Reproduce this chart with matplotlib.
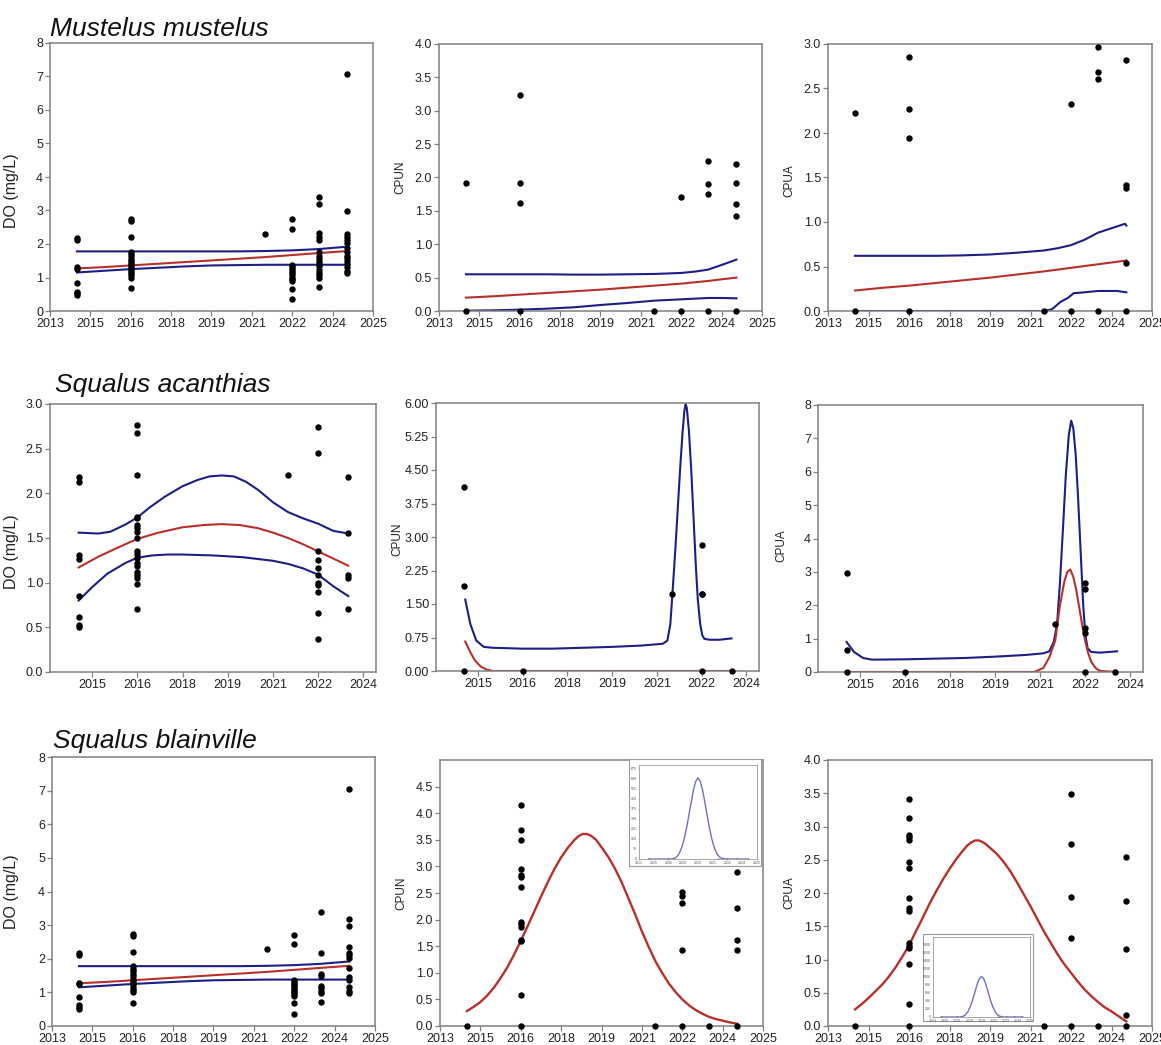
import matplotlib
matplotlib.use("Agg")
import matplotlib.pyplot as plt
from matplotlib.patches import Rectangle

plt.rcParams['font.family'] = ['Liberation Sans', 'DejaVu Sans']

W, H = 1161, 1045
BLUE = '#1c1f85'
RED = '#b8302a'
INSET = '#6f6fc0'
GREY = '#808080'
TXT = '#222222'

# ---- x axis (years, odd 1.5 yr ticks as in original) ----
xticks = [2013, 2014.5, 2016, 2017.5, 2019, 2020.5, 2022, 2023.5, 2025]
xlabels = ['2013', '2015', '2016', '2018', '2019', '2021', '2022', '2024', '2025']

years_a = [2014.0, 2016.0, 2021.0, 2022.0, 2023.0, 2024.05]
years_b = [2014.05, 2016.0, 2021.0, 2022.0, 2023.0]

# ---- Mustelus mustelus ----
mm_do = [
    [2.18, 2.13, 1.30, 1.25, 0.85, 0.58, 0.53, 0.49],
    [2.76, 2.70, 2.20, 1.76, 1.70, 1.63, 1.56, 1.49, 1.42, 1.36, 1.30, 1.25, 1.19, 1.12, 1.06, 1.00, 0.70],
    [2.30],
    [2.74, 2.45, 1.36, 1.30, 1.24, 1.18, 1.12, 1.06, 1.00, 0.95, 0.89, 0.67, 0.37],
    [3.41, 3.18, 2.34, 2.22, 2.12, 1.75, 1.65, 1.55, 1.47, 1.40, 1.33, 1.22, 1.13, 1.06, 1.00, 0.71],
    [7.06, 2.99, 2.31, 2.22, 2.12, 2.02, 1.87, 1.76, 1.65, 1.57, 1.50, 1.40, 1.30, 1.20, 1.12],
]
mm_cpun = [[1.92, 0], [3.23, 1.92, 1.62, 0], [0], [1.71, 0], [2.24, 1.91, 1.76, 0], [2.20, 1.92, 1.60, 1.42, 0]]
mm_cpua = [[2.22, 0], [2.85, 2.27, 1.94, 0], [0], [2.33, 0], [2.97, 2.69, 2.61, 0], [2.82, 1.42, 1.38, 0.54, 0]]

do_fit_x = [2014.0, 2015, 2016, 2017, 2018, 2019, 2020, 2021, 2022, 2023, 2024.05]
do_up = [1.78, 1.78, 1.78, 1.78, 1.78, 1.78, 1.78, 1.79, 1.81, 1.85, 1.92]
do_mid = [1.27, 1.31, 1.36, 1.41, 1.46, 1.51, 1.56, 1.61, 1.67, 1.73, 1.79]
do_lo = [1.15, 1.20, 1.25, 1.29, 1.33, 1.36, 1.37, 1.38, 1.38, 1.38, 1.38]

mm_cpun_fx = [2014.0, 2015, 2016, 2017, 2018, 2019, 2020, 2021, 2022, 2022.5, 2023, 2023.5, 2024.05]
mm_cpun_up = [0.55, 0.55, 0.55, 0.55, 0.545, 0.545, 0.55, 0.555, 0.57, 0.59, 0.62, 0.69, 0.77]
mm_cpun_mid = [0.20, 0.22, 0.245, 0.27, 0.295, 0.32, 0.35, 0.38, 0.41, 0.43, 0.45, 0.475, 0.50]
mm_cpun_lo = [0.005, 0.01, 0.02, 0.035, 0.055, 0.09, 0.12, 0.155, 0.175, 0.185, 0.195, 0.195, 0.19]

mm_cpua_fx = [2014.0, 2015, 2016, 2017, 2018, 2019, 2020, 2021, 2021.5, 2022, 2022.5, 2023, 2023.5, 2024.0, 2024.05]
mm_cpua_up = [0.62, 0.62, 0.62, 0.62, 0.625, 0.635, 0.655, 0.68, 0.705, 0.74, 0.80, 0.88, 0.93, 0.98, 0.96]
mm_cpua_mid = [0.23, 0.26, 0.285, 0.315, 0.345, 0.375, 0.41, 0.445, 0.465, 0.485, 0.505, 0.525, 0.545, 0.565, 0.57]
mm_cpua_lo_x = [2014.0, 2021.0, 2021.3, 2021.6, 2021.9, 2022.1, 2022.5, 2023.0, 2023.7, 2024.05]
mm_cpua_lo = [0, 0, 0.02, 0.1, 0.15, 0.2, 0.21, 0.225, 0.225, 0.21]

# ---- Squalus acanthias ----
sa_do = [
    [2.18, 2.13, 1.31, 1.26, 0.85, 0.62, 0.53, 0.50],
    [2.76, 2.68, 2.20, 1.74, 1.72, 1.65, 1.61, 1.57, 1.50, 1.35, 1.32, 1.28, 1.22, 1.19, 1.12, 1.09, 1.05, 0.98, 0.70],
    [2.20],
    [2.74, 2.45, 1.36, 1.25, 1.16, 1.09, 1.00, 0.97, 0.89, 0.66, 0.37],
    [2.18, 1.56, 1.09, 1.05, 0.70],
]
sa_cpun = [[4.13, 1.91, 0], [0], [1.73], [2.82, 1.73, 1.72, 0], [0]]
sa_cpua = [[2.97, 0.67, 0], [0], [1.45], [2.67, 2.50, 1.33, 1.17, 0], [0]]

sa_do_ux = [2014.05, 2014.7, 2015.1, 2015.6, 2016.0, 2016.4, 2016.9, 2017.5, 2018.0, 2018.4, 2018.8, 2019.2,
            2019.6, 2020.0, 2020.5, 2021.0, 2021.5, 2022.0, 2022.5, 2023.0]
sa_do_up = [1.56, 1.55, 1.57, 1.65, 1.73, 1.84, 1.96, 2.08, 2.15, 2.19, 2.20, 2.19, 2.13, 2.04, 1.90, 1.79,
            1.72, 1.66, 1.58, 1.55]
sa_do_mx = [2014.05, 2014.7, 2015.4, 2016.0, 2016.7, 2017.5, 2018.2, 2018.8, 2019.4, 2020.0, 2020.5, 2021.0,
            2021.5, 2022.0, 2022.5, 2023.0]
sa_do_mid = [1.17, 1.29, 1.40, 1.49, 1.56, 1.62, 1.645, 1.655, 1.645, 1.61, 1.56, 1.50, 1.43, 1.35, 1.27, 1.19]
sa_do_lx = [2014.05, 2014.5, 2015.0, 2015.6, 2016.0, 2016.5, 2017.0, 2017.5, 2018.5, 2019.5, 2020.5, 2021.0,
            2021.5, 2022.0, 2022.5, 2023.0]
sa_do_lo = [0.80, 0.95, 1.10, 1.22, 1.28, 1.305, 1.315, 1.315, 1.305, 1.285, 1.245, 1.21, 1.16, 1.09, 0.96, 0.85]

sa_cpun_ux = [2014.08, 2014.25, 2014.45, 2014.7, 2015.0, 2016.0, 2017.0, 2018.0, 2019.0, 2020.0, 2020.7,
              2020.85, 2020.95, 2021.02, 2021.12, 2021.2, 2021.28, 2021.36, 2021.42, 2021.46, 2021.5, 2021.57,
              2021.65, 2021.73, 2021.8, 2021.87, 2021.95, 2022.02, 2022.09, 2022.26, 2022.6, 2023.0]
sa_cpun_up = [1.60, 1.05, 0.68, 0.54, 0.52, 0.50, 0.50, 0.52, 0.54, 0.57, 0.61, 0.68, 1.05, 1.73, 2.75, 3.65,
              4.55, 5.35, 5.82, 5.97, 5.90, 5.40, 4.50, 3.40, 2.40, 1.60, 1.05, 0.80, 0.72, 0.70, 0.70, 0.73]
sa_cpun_mx = [2014.08, 2014.25, 2014.4, 2014.6, 2014.8, 2015.0, 2023.0]
sa_cpun_mid = [0.66, 0.42, 0.24, 0.10, 0.03, 0.0, 0.0]

sa_cpua_ux = [2014.05, 2014.3, 2014.6, 2014.9, 2016.0, 2017.0, 2018.0, 2019.0, 2020.0, 2020.61, 2020.8,
              2020.95, 2021.06, 2021.15, 2021.25, 2021.35, 2021.45, 2021.53, 2021.6, 2021.68, 2021.76,
              2021.85, 2021.93, 2022.0, 2022.08, 2022.2, 2022.5, 2023.06]
sa_cpua_up = [0.90, 0.60, 0.42, 0.37, 0.38, 0.40, 0.42, 0.46, 0.51, 0.56, 0.62, 0.90, 1.45, 2.60, 4.20, 5.90,
              7.10, 7.53, 7.30, 6.50, 5.20, 3.50, 2.00, 1.10, 0.70, 0.60, 0.58, 0.62]
sa_cpua_mx = [2014.05, 2020.3, 2020.6, 2020.8, 2021.0, 2021.15, 2021.3, 2021.4, 2021.5, 2021.6, 2021.7,
              2021.8, 2021.9, 2022.0, 2022.1, 2022.2, 2022.35, 2022.5, 2023.06]
sa_cpua_mid = [0.0, 0.0, 0.12, 0.44, 0.95, 1.97, 2.71, 3.00, 3.07, 2.85, 2.45, 1.92, 1.38, 0.91, 0.55, 0.30,
               0.11, 0.03, 0.0]

# ---- Squalus blainville ----
sb_do = [
    [2.16, 2.12, 1.29, 1.24, 0.85, 0.62, 0.56, 0.50],
    [2.74, 2.67, 2.19, 1.77, 1.70, 1.63, 1.56, 1.49, 1.41, 1.34, 1.28, 1.21, 1.14, 1.07, 1.00, 0.69],
    [2.29],
    [2.72, 2.45, 1.36, 1.31, 1.26, 1.21, 1.15, 1.10, 1.05, 1.00, 0.94, 0.88, 0.67, 0.37],
    [3.40, 2.18, 1.55, 1.50, 1.18, 1.12, 1.05, 0.99, 0.70],
    [7.05, 3.17, 2.98, 2.34, 2.18, 2.10, 2.02, 1.72, 1.45, 1.38, 1.15, 1.05, 0.99],
]
sb_cpun = [
    [0],
    [4.16, 3.69, 3.50, 2.95, 2.83, 2.80, 2.61, 1.95, 1.91, 1.87, 1.62, 1.60, 0.59, 0],
    [0],
    [2.52, 2.45, 2.31, 1.42, 0],
    [0],
    [2.90, 2.22, 1.62, 1.42, 0],
]
sb_cpua = [
    [0],
    [3.41, 3.13, 2.87, 2.84, 2.80, 2.46, 2.38, 1.93, 1.77, 1.73, 1.25, 1.21, 1.18, 0.93, 0.33, 0],
    [0],
    [3.49, 2.74, 1.94, 1.33, 0],
    [0],
    [2.54, 1.88, 1.16, 0.17, 0],
]
sb_fx = [2014.0, 2014.25, 2014.5, 2014.75, 2015.0, 2015.25, 2015.5, 2015.75, 2016.0, 2016.25, 2016.5, 2016.75,
         2017.0, 2017.25, 2017.5, 2017.75, 2018.0, 2018.15, 2018.3, 2018.45, 2018.6, 2018.8, 2019.0, 2019.25,
         2019.5, 2019.75, 2020.0, 2020.25, 2020.5, 2020.75, 2021.0, 2021.25, 2021.5, 2021.75, 2022.0,
         2022.25, 2022.5, 2022.75, 2023.0, 2023.25, 2023.5, 2023.75, 2024.05]
sb_cpun_mid = [0.28, 0.36, 0.45, 0.57, 0.72, 0.90, 1.10, 1.34, 1.60, 1.87, 2.15, 2.43, 2.70, 2.95, 3.17, 3.35,
               3.50, 3.57, 3.61, 3.61, 3.58, 3.50, 3.36, 3.18, 2.96, 2.70, 2.40, 2.10, 1.78, 1.49, 1.22, 1.00,
               0.80, 0.64, 0.50, 0.39, 0.30, 0.23, 0.17, 0.13, 0.10, 0.07, 0.04]
sb_cpua_mid = [0.25, 0.33, 0.42, 0.52, 0.62, 0.74, 0.88, 1.04, 1.21, 1.42, 1.62, 1.83, 2.02, 2.20, 2.36, 2.51,
               2.64, 2.71, 2.76, 2.79, 2.79, 2.75, 2.68, 2.59, 2.47, 2.33, 2.16, 1.98, 1.80, 1.61, 1.42, 1.25,
               1.08, 0.93, 0.80, 0.67, 0.55, 0.45, 0.36, 0.28, 0.22, 0.15, 0.07]

# insets (abundance model curves)
ins_x = [2014.0, 2016.3, 2016.7, 2017.0, 2017.3, 2017.6, 2017.9, 2018.2, 2018.5, 2018.75, 2019.0, 2019.25,
         2019.5, 2019.8, 2020.1, 2020.4, 2020.7, 2021.0, 2021.3, 2021.8, 2024.1]
ins8_y = [0, 0, 8, 30, 75, 150, 255, 380, 500, 575, 605, 575, 500, 380, 255, 150, 75, 30, 8, 0, 0]
ins9_y = [0, 0, 15, 50, 125, 250, 420, 630, 830, 955, 1000, 955, 830, 630, 420, 250, 125, 50, 15, 0, 0]
ins_pts_x = [2014.0, 2016.0, 2021.0, 2022.0, 2023.0, 2024.05]


def px_axes(l, t, r, b):
    return fig.add_axes([l / W, 1 - b / H, (r - l) / W, (b - t) / H])


def style(ax, xlim, ylim, yticks, yfmt, xt, xl, ylabel, lab_xy, lab_size):
    ax.set_xlim(*xlim)
    ax.set_ylim(*ylim)
    ax.set_xticks(xt)
    ax.set_xticklabels(xl)
    ax.set_yticks(yticks)
    ax.set_yticklabels([yfmt.format(v) for v in yticks])
    for s in ax.spines.values():
        s.set_color(GREY)
        s.set_linewidth(1.1)
    ax.tick_params(direction='out', length=3.5, width=0.9, color=GREY, labelsize=9,
                   labelcolor=TXT, pad=1.5)
    ax.set_ylabel(ylabel, fontsize=lab_size, color=TXT)
    ax.yaxis.set_label_coords(*lab_xy)


def dots(ax, years, groups):
    xs, ys = [], []
    for yr, vals in zip(years, groups):
        xs += [yr] * len(vals)
        ys += vals
    ax.plot(xs, ys, 'o', color='black', markersize=4.6, markeredgewidth=0, clip_on=False, zorder=5)


fig = plt.figure(figsize=(W / 100, H / 100), dpi=100)

xl_ab = (2013, 2025)
xl_b = (2013.1, 2023.92)
xt_b = xticks[1:-1]
xlb_b = xlabels[1:-1]

# Row 1
a1 = px_axes(50, 43, 373, 311)
a1.plot(do_fit_x, do_up, color=BLUE, lw=1.5)
a1.plot(do_fit_x, do_mid, color=RED, lw=1.5)
a1.plot(do_fit_x, do_lo, color=BLUE, lw=1.5)
dots(a1, years_a, mm_do)
style(a1, xl_ab, (0, 8), list(range(0, 9)), '{:d}', xticks, xlabels, 'DO (mg/L)', (-0.096, 0.45), 11.5)

a2 = px_axes(439, 44, 762, 311)
a2.plot(mm_cpun_fx, mm_cpun_up, color=BLUE, lw=1.5)
a2.plot(mm_cpun_fx, mm_cpun_mid, color=RED, lw=1.5)
a2.plot(mm_cpun_fx, mm_cpun_lo, color=BLUE, lw=1.5)
dots(a2, years_a, mm_cpun)
style(a2, xl_ab, (0, 4), [i * 0.5 for i in range(9)], '{:.1f}', xticks, xlabels, 'CPUN', (-0.102, 0.5), 8.5)

a3 = px_axes(828, 44, 1152, 311)
a3.plot(mm_cpua_fx, mm_cpua_up, color=BLUE, lw=1.5)
a3.plot(mm_cpua_fx, mm_cpua_mid, color=RED, lw=1.5)
a3.plot(mm_cpua_lo_x, mm_cpua_lo, color=BLUE, lw=1.5)
dots(a3, years_a, mm_cpua)
style(a3, xl_ab, (0, 3), [i * 0.5 for i in range(7)], '{:.1f}', xticks, xlabels, 'CPUA', (-0.102, 0.49), 8.5)

# Row 2
a4 = px_axes(50, 404, 376, 672)
a4.plot(sa_do_ux, sa_do_up, color=BLUE, lw=1.5)
a4.plot(sa_do_mx, sa_do_mid, color=RED, lw=1.5)
a4.plot(sa_do_lx, sa_do_lo, color=BLUE, lw=1.5)
dots(a4, years_b, sa_do)
style(a4, xl_b, (0, 3), [i * 0.5 for i in range(7)], '{:.1f}', xt_b, xlb_b, 'DO (mg/L)', (-0.095, 0.45), 11.5)

a5 = px_axes(436, 403, 759, 671)
a5.plot(sa_cpun_ux, sa_cpun_up, color=BLUE, lw=1.5)
a5.plot(sa_cpun_mx, sa_cpun_mid, color=RED, lw=1.5)
dots(a5, years_b, sa_cpun)
style(a5, xl_b, (0, 6), [i * 0.75 for i in range(9)], '{:.2f}', xt_b, xlb_b, 'CPUN', (-0.102, 0.49), 8.5)

a6 = px_axes(818, 405, 1143, 672)
a6.plot(sa_cpua_ux, sa_cpua_up, color=BLUE, lw=1.5)
a6.plot(sa_cpua_mx, sa_cpua_mid, color=RED, lw=1.5)
dots(a6, years_b, sa_cpua)
style(a6, xl_b, (0, 8), list(range(0, 9)), '{:d}', xt_b, xlb_b, 'CPUA', (-0.095, 0.475), 8.5)

# Row 3
a7 = px_axes(52, 757, 375, 1026)
a7.plot(do_fit_x, do_up, color=BLUE, lw=1.5)
a7.plot(do_fit_x, do_mid, color=RED, lw=1.5)
a7.plot(do_fit_x, do_lo, color=BLUE, lw=1.5)
dots(a7, years_a, sb_do)
style(a7, xl_ab, (0, 8), list(range(0, 9)), '{:d}', xticks, xlabels, 'DO (mg/L)', (-0.102, 0.5), 11.5)

a8 = px_axes(440, 760, 763, 1026)
a8.plot(sb_fx, sb_cpun_mid, color=RED, lw=1.7)
dots(a8, years_a, sb_cpun)
style(a8, xl_ab, (0, 5), [i * 0.5 for i in range(10)], '{:.1f}', xticks, xlabels, 'CPUN', (-0.102, 0.5), 8.5)

a9 = px_axes(828, 760, 1152, 1026)
a9.plot(sb_fx, sb_cpua_mid, color=RED, lw=1.7)
dots(a9, years_a, sb_cpua)
style(a9, xl_ab, (0, 4), [i * 0.5 for i in range(9)], '{:.1f}', xticks, xlabels, 'CPUA', (-0.102, 0.5), 8.5)

# insets
for (l, t, r, b), ys, top, step, frame in [((639, 765, 757, 859), ins8_y, 700, 75, (629, 759, 761, 866)),
                                          ((933, 937, 1030, 1017), ins9_y, 1980, 200, (923, 934, 1033, 1021))]:
    fl, ft, fr, fb = frame
    fig.patches.append(Rectangle((fl / W, 1 - fb / H), (fr - fl) / W, (fb - ft) / H,
                                 transform=fig.transFigure, fill=True, facecolor='white',
                                 edgecolor='#9a9a9a', lw=0.8, zorder=3))
    ai = px_axes(l, t, r, b)
    ai.set_zorder(10)
    ai.plot(ins_x, ys, color=INSET, lw=1.0)
    ai.plot(ins_pts_x, [0] * len(ins_pts_x), 'o', color='#333333', markersize=1.3, markeredgewidth=0)
    ai.set_xlim(2013, 2025)
    ai.set_ylim(0, top)
    ai.set_xticks(xticks)
    ai.set_xticklabels(xlabels)
    yt = list(range(0, top, step))
    ai.set_yticks(yt)
    for s in ai.spines.values():
        s.set_color('#999999')
        s.set_linewidth(0.6)
    ai.tick_params(length=1, width=0.4, color='#999999', labelsize=2.6, labelcolor='#555555', pad=0.5)

# species titles
for x, base, name in [(50, 36, 'Mustelus mustelus'), (55, 392, 'Squalus acanthias'), (53, 748, 'Squalus blainville')]:
    fig.text(x / W, 1 - base / H, name, fontsize=19, style='italic', color='#111111', va='baseline', ha='left')

fig.savefig('out.png', dpi=100)
